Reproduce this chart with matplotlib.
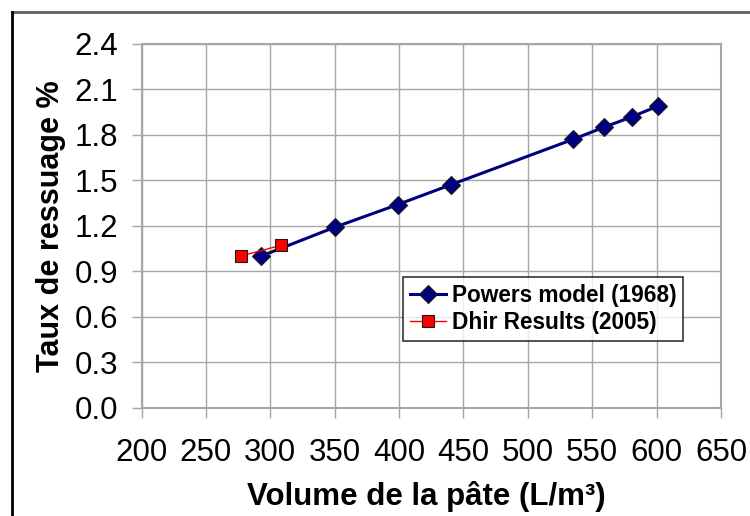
import matplotlib
matplotlib.use("Agg")
import matplotlib.pyplot as plt
from matplotlib.lines import Line2D

plt.rcParams['font.family'] = ['Liberation Sans', 'DejaVu Sans']

# --- Data ---
powers_x = [293, 350, 399, 440, 535, 559, 581, 601]
powers_y = [1.00, 1.19, 1.34, 1.47, 1.77, 1.85, 1.92, 1.99]
dhir_x = [277, 308]
dhir_y = [1.00, 1.07]

x_ticks = [200, 250, 300, 350, 400, 450, 500, 550, 600, 650]
y_ticks = [0.0, 0.3, 0.6, 0.9, 1.2, 1.5, 1.8, 2.1, 2.4]

grid_col = '#A6A6A6'

fig = plt.figure(figsize=(7.5, 5.16), dpi=100)
ax = fig.add_axes([141.5 / 750, 1 - 407.5 / 516, (721 - 141.5) / 750, (407.5 - 44) / 516])

ax.plot(powers_x, powers_y, color='#000080', lw=2.2, marker='D', ms=9.5,
        mfc='#000080', mec='#1a1a1a', mew=0.8, label='Powers model (1968)', zorder=3)
ax.plot(dhir_x, dhir_y, color='#FF0000', lw=1.0, marker='s', ms=8.5,
        mfc='#FF0000', mec='#1a1a1a', mew=0.8, label='Dhir Results (2005)', zorder=4)

ax.set_xlim(200, 650)
ax.set_ylim(0, 2.4)
ax.set_xticks(x_ticks)
ax.set_yticks(y_ticks)
ax.set_yticklabels([f"{v:.1f}" for v in y_ticks])
ax.grid(True, color=grid_col, lw=1.0)
ax.set_axisbelow(True)
for s in ax.spines.values():
    s.set_color(grid_col)
    s.set_linewidth(1.5)
ax.tick_params(axis='x', length=7, width=1.0, color=grid_col, labelsize=22.5, pad=15)
ax.tick_params(axis='y', length=7, width=1.0, color=grid_col, labelsize=22.5, pad=10)

ax.set_xlabel('Volume de la pâte (L/m³)', fontsize=22.5, fontweight='bold')
ax.set_ylabel('Taux de ressuage %', fontsize=22, fontweight='bold')
ax.xaxis.set_label_coords(0.492, -0.202)
ax.yaxis.set_label_coords(-0.13, 0.5)

leg = ax.legend(loc='upper left', bbox_to_anchor=((403 - 141.5) / 579.5, (407.5 - 277) / 363.5),
                prop={'weight': 'bold', 'size': 16.3}, frameon=True, fancybox=False,
                edgecolor='black', handlelength=1.6, handletextpad=0.25,
                borderpad=0.3, labelspacing=0.2, borderaxespad=0)
leg.get_frame().set_linewidth(1.2)

# outer chart frame
fig.add_artist(Line2D([11.5 / 750, 1], [1 - 12 / 516, 1 - 12 / 516],
                      transform=fig.transFigure, color='#606060', lw=2))
fig.add_artist(Line2D([11.5 / 750, 11.5 / 750], [0, 1 - 12 / 516],
                      transform=fig.transFigure, color='black', lw=2))

fig.savefig('out.png', dpi=100)
